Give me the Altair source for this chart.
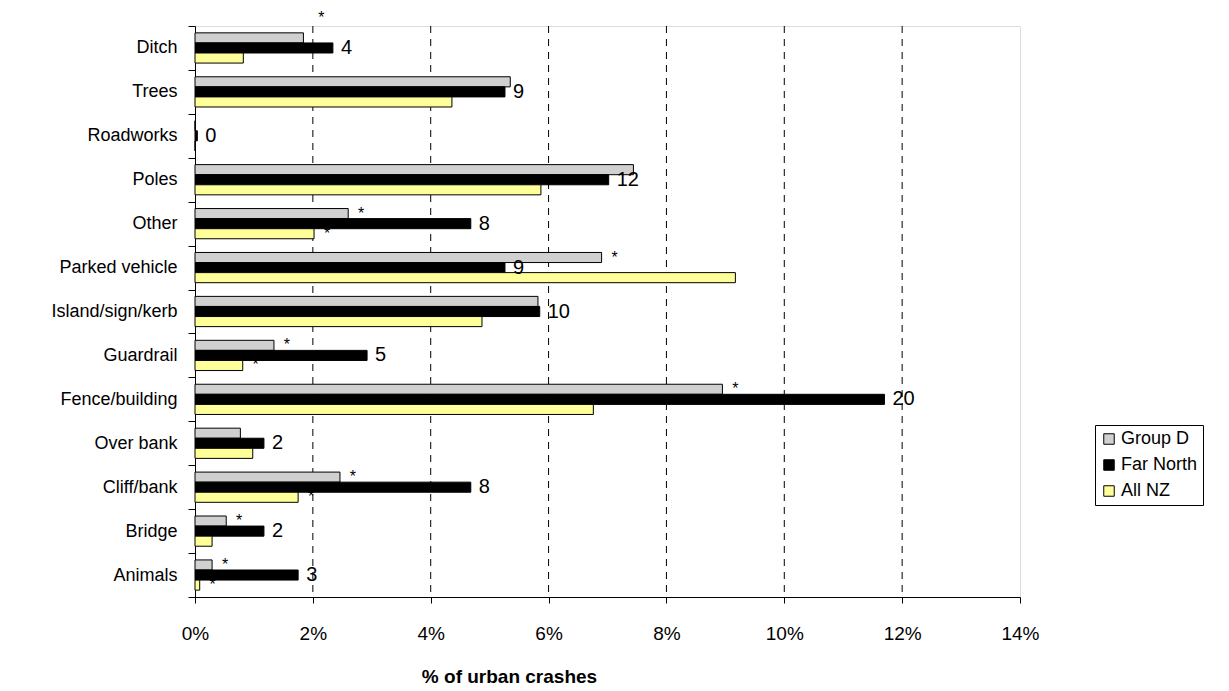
import altair as alt
import pandas as pd

categories = ["Ditch", "Trees", "Roadworks", "Poles", "Other", "Parked vehicle",
              "Island/sign/kerb", "Guardrail", "Fence/building", "Over bank",
              "Cliff/bank", "Bridge", "Animals"]
series_names = ["Group D", "Far North", "All NZ"]
group_d = [1.84, 5.35, 0.0, 7.44, 2.60, 6.90, 5.82, 1.34, 8.95, 0.77, 2.46, 0.53, 0.29]
far_north = [2.34, 5.26, 0.04, 7.02, 4.68, 5.26, 5.85, 2.92, 11.70, 1.17, 4.68, 1.17, 1.75]
all_nz = [0.82, 4.36, 0.0, 5.87, 2.02, 9.17, 4.87, 0.81, 6.76, 0.98, 1.75, 0.29, 0.08]
counts = [4, 9, 0, 12, 8, 9, 10, 5, 20, 2, 8, 2, 3]
gd_star = ["Other", "Parked vehicle", "Guardrail", "Fence/building", "Cliff/bank", "Bridge", "Animals"]
gd_star_top = ["Ditch"]
nz_star = ["Other", "Guardrail", "Cliff/bank", "Animals"]
grid_values = [2, 4, 6, 8, 10, 12]
tick_values = [0, 2, 4, 6, 8, 10, 12, 14]
colors = ["#d0d0d0", "#000000", "#ffff99"]

FONT = "Liberation Sans"

rows = []
for i, c in enumerate(categories):
    for s, vals in zip(series_names, [group_d, far_north, all_nz]):
        rows.append({"category": c, "series": s, "value": vals[i]})
bars_df = pd.DataFrame(rows)

count_df = pd.DataFrame({"category": categories, "series": "Far North",
                         "value": far_north, "label": [str(c) for c in counts]})
gd_star_df = pd.DataFrame({"category": gd_star, "series": "Group D",
                           "value": [group_d[categories.index(c)] for c in gd_star]})
gd_top_df = pd.DataFrame({"category": gd_star_top, "series": "Group D",
                          "value": [group_d[categories.index(c)] for c in gd_star_top]})
nz_star_df = pd.DataFrame({"category": nz_star, "series": "All NZ",
                           "value": [all_nz[categories.index(c)] for c in nz_star]})
grid_df = pd.DataFrame({"value": grid_values})

y_enc = alt.Y("category:N", sort=categories,
              scale=alt.Scale(domain=categories, paddingInner=0, paddingOuter=0),
              axis=alt.Axis(title=None, labelFontSize=18, labelColor="black", labelFont=FONT,
                            tickBand="extent", tickSize=7, tickColor="black",
                            domainColor="black", labelPadding=11, grid=False))
yoff = alt.YOffset("series:N", sort=series_names,
                   scale=alt.Scale(domain=series_names, paddingOuter=0.68, paddingInner=0))
x_enc = alt.X("value:Q", scale=alt.Scale(domain=[0, 14], nice=False, zero=True),
              axis=alt.Axis(values=tick_values, labelExpr="datum.value + '%'",
                            title="% of urban crashes", grid=False, labelFlush=False,
                            labelFontSize=19, labelColor="black", labelFont=FONT,
                            tickColor="black", tickSize=6, domainColor="black",
                            labelPadding=21, titleFontSize=19, titleFont=FONT,
                            titleFontWeight="bold", titleColor="black", titlePadding=24,
                            titleX=314, titleAlign="center"))

grid = alt.Chart(grid_df).mark_rule(color="black", strokeDash=[7, 6], strokeWidth=1).encode(
    x=alt.X("value:Q", scale=alt.Scale(domain=[0, 14], nice=False)))

nz_stars = alt.Chart(nz_star_df).mark_text(text="*", align="center", baseline="middle",
                                           dx=13, fontSize=16, font=FONT, color="black").encode(
    x=x_enc, y=y_enc, yOffset=yoff)

bars = alt.Chart(bars_df).mark_bar(stroke="black", strokeWidth=1).encode(
    x=x_enc, y=y_enc, yOffset=yoff,
    color=alt.Color("series:N", sort=series_names,
                    scale=alt.Scale(domain=series_names, range=colors),
                    legend=alt.Legend(title=None, orient="none", legendX=900, legendY=399,
                                      strokeColor="black", fillColor="white", padding=5,
                                      labelFontSize=18, labelFont=FONT, labelColor="black",
                                      symbolType="square", symbolSize=110,
                                      symbolStrokeColor="black", symbolStrokeWidth=1,
                                      rowPadding=8, labelOffset=3)))

labels = alt.Chart(count_df).mark_text(align="left", baseline="middle", dx=8, fontSize=20,
                                       font=FONT, color="black").encode(
    x=x_enc, y=y_enc, yOffset=yoff, text="label:N")

gd_stars = alt.Chart(gd_star_df).mark_text(text="*", align="center", baseline="middle",
                                           dx=13, fontSize=16, font=FONT, color="black").encode(
    x=x_enc, y=y_enc, yOffset=yoff)

gd_top = alt.Chart(gd_top_df).mark_text(text="*", align="center", baseline="middle",
                                        dx=18, dy=-20, fontSize=16, font=FONT, color="black").encode(
    x=x_enc, y=y_enc, yOffset=yoff)

chart = alt.layer(grid, nz_stars, bars, labels, gd_stars, gd_top).properties(
    width=825, height=571,
    autosize=alt.AutoSizeParams(type="none"),
    padding={"left": 187, "top": 18, "right": 201, "bottom": 94},
).configure_view(stroke="#808080", strokeWidth=1).configure(background="white")

chart.save("out.html", embed_options={"renderer": "svg", "actions": False})
